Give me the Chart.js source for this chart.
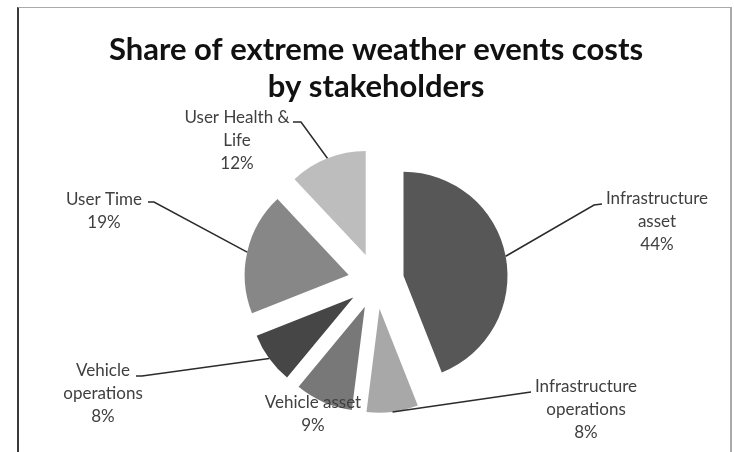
<!DOCTYPE html>
<html>
<head>
<meta charset="utf-8">
<script src="https://cdn.jsdelivr.net/npm/chart.js@4.4.1/dist/chart.umd.min.js"></script>
<style>
  html, body { margin: 0; padding: 0; background: #fff; }
  #wrap { position: relative; width: 734px; height: 452px; overflow: hidden; }
  #frame { position: absolute; left: 17px; top: 7px; width: 711px; height: 470px;
           border-left: 2px solid #3a3a3a; border-top: 1px solid #aaa; border-right: 2px solid #aaa; }
  canvas { position: absolute; left: 0; top: 0; }
</style>
</head>
<body>
<div id="wrap">
  <div id="frame"></div>
  <canvas id="costChart" width="734" height="452"></canvas>
</div>
<script>
// data
const categories = ["Infrastructure asset", "Infrastructure operations", "Vehicle asset",
                    "Vehicle operations", "User Time", "User Health & Life"];
const shares = [44, 8, 9, 8, 19, 12];
// how Excel wrapped the category names in the data labels
const labelLines = [["Infrastructure", "asset"], ["Infrastructure", "operations"], ["Vehicle asset"],
                    ["Vehicle", "operations"], ["User Time"], ["User Health &", "Life"]];
const titleLines = ["Share of extreme weather events costs", "by stakeholders"];

// styling
const sliceColors = ["#575757", "#a8a8a8", "#787878", "#464646", "#878787", "#bdbdbd"];
const EXPLODE = 28;
// label text anchor (centre x, first line y) and leader line bend points
const labelPos = [[657, 199], [586, 387], [313, 403], [103, 371], [104, 200], [237, 118]];
const leaderPts = [
    [[594, 205], [602, 204]],
    [[524, 393], [531, 392]],
    null,
    [[142, 376], [136, 376]],
    [[154, 202], [148, 202]],
    [[301, 122], [293, 122]]
];

// push every slice out along its bisector, like Excel's "point explosion"
const explodePlugin = {
    id: "explode",
    afterDatasetUpdate(chart, args) {
        args.meta.data.forEach(arc => {
            const mid = (arc.startAngle + arc.endAngle) / 2;
            arc.x += Math.cos(mid) * EXPLODE;
            arc.y += Math.sin(mid) * EXPLODE;
        });
    }
};

const labelPlugin = {
    id: "sliceLabels",
    afterDatasetsDraw(chart) {
        const ctx = chart.ctx;
        const arcs = chart.getDatasetMeta(0).data;
        ctx.save();
        arcs.forEach((arc, i) => {
            const mid = (arc.startAngle + arc.endAngle) / 2;
            const r = arc.outerRadius;
            if (leaderPts[i]) {
                ctx.beginPath();
                ctx.moveTo(arc.x + Math.cos(mid) * r, arc.y + Math.sin(mid) * r);
                leaderPts[i].forEach(p => ctx.lineTo(p[0], p[1]));
                ctx.strokeStyle = "#2b2b2b";
                ctx.lineWidth = 1.5;
                ctx.stroke();
            }
            const lines = labelLines[i].concat([shares[i] + "%"]);
            ctx.font = "17px Lato";
            ctx.fillStyle = "#404040";
            ctx.textAlign = "center";
            ctx.textBaseline = "middle";
            lines.forEach((t, k) => ctx.fillText(t, labelPos[i][0], labelPos[i][1] + k * 23));
        });
        ctx.restore();
    }
};

const ctx = document.getElementById("costChart").getContext("2d");
new Chart(ctx, {
    type: "pie",
    data: {
        labels: categories,
        datasets: [{
            data: shares,
            backgroundColor: sliceColors,
            borderWidth: 0,
            clip: false
        }]
    },
    options: {
        responsive: false,
        animation: false,
        radius: 104,
        layout: { padding: { left: 40, right: 22, top: 20, bottom: 5 } },
        plugins: {
            legend: { display: false },
            tooltip: { enabled: false },
            title: {
                display: true,
                text: titleLines,
                color: "#111",
                font: { family: "Lato", size: 31, weight: "bold", lineHeight: 1.2 },
                padding: { top: 11, bottom: 9.6 }
            }
        }
    },
    plugins: [explodePlugin, labelPlugin]
});
</script>
</body>
</html>
